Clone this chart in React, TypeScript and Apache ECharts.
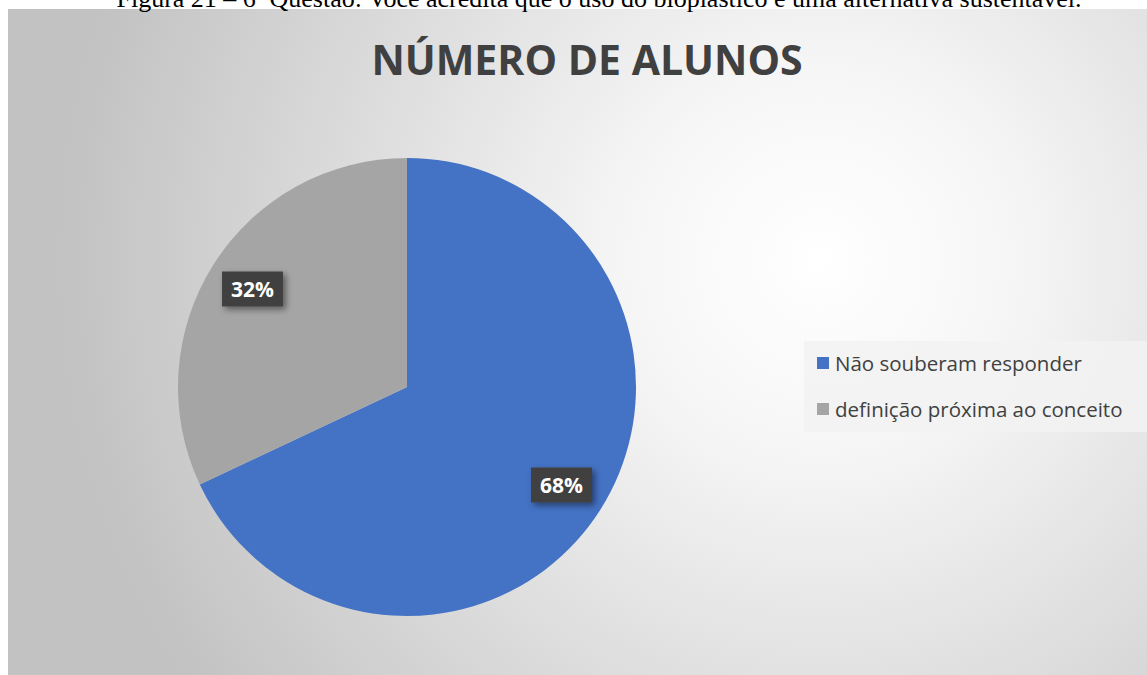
import React, { useEffect, useRef } from "react";
import * as echarts from "echarts";

const chartTitle = "NÚMERO DE ALUNOS";
const caption = "Figura 21 – 6ª Questão: Você acredita que o uso do bioplástico é uma alternativa sustentável.";
const categories = ["Não souberam responder", "definição próxima ao conceito"];
const values = [68, 32];
const colors = ["#4472C4", "#A5A5A5"];

export default function App() {
  const ref = useRef<HTMLDivElement>(null);
  useEffect(() => {
    if (!ref.current) return;
    const chart = echarts.init(ref.current, undefined, { renderer: "svg" });
    const data = categories.map((name, i) => ({
      name,
      value: values[i],
      itemStyle: { color: colors[i] },
    }));
    chart.setOption({
      animation: false,
      backgroundColor: "#ffffff",
      graphic: [
        {
          type: "rect",
          z: -10,
          silent: true,
          shape: { x: 8, y: 9, width: 1150, height: 666 },
          style: {
            fill: {
              type: "radial",
              x: 820,
              y: 260,
              r: 760,
              global: true,
              colorStops: [
                { offset: 0, color: "#ffffff" },
                { offset: 0.25, color: "#f6f6f6" },
                { offset: 1, color: "#c2c2c2" },
              ],
            },
          },
        },
        {
          type: "text",
          z: 10,
          silent: true,
          x: 599,
          y: 11,
          style: {
            text: caption,
            fill: "#000000",
            font: "26px 'Liberation Serif'",
            align: "center",
            verticalAlign: "bottom",
          },
        },
      ],
      title: {
        text: chartTitle,
        left: 582,
        top: 33,
        textAlign: "center",
        textStyle: {
          fontFamily: "Open Sans",
          fontWeight: "bold",
          fontSize: 41,
          color: "#404040",
        },
      },
      legend: {
        orient: "vertical",
        left: 804,
        top: 341,
        padding: [11, 60, 12, 13],
        backgroundColor: "rgba(242,242,242,0.85)",
        itemWidth: 12,
        itemHeight: 12,
        itemGap: 24,
        icon: "rect",
        data: categories,
        textStyle: {
          fontFamily: "Open Sans",
          fontSize: 20.5,
          lineHeight: 22,
          color: "#404040",
          padding: [0, 0, 0, 1],
        },
      },
      series: [
        {
          type: "pie",
          center: [407, 387],
          radius: 229,
          startAngle: 90,
          clockwise: true,
          label: { show: false },
          labelLine: { show: false },
          data,
          z: 2,
        },
        {
          type: "pie",
          center: [407, 387],
          radius: [131, 229],
          startAngle: 90,
          clockwise: true,
          silent: true,
          itemStyle: { color: "rgba(0,0,0,0)" },
          labelLine: { show: false },
          label: {
            show: true,
            position: "inside",
            formatter: (p: any) => p.value + "%",
            fontFamily: "Open Sans",
            fontWeight: "bold",
            fontSize: 21,
            color: "#ffffff",
            backgroundColor: "#404040",
            padding: [8, 9, 6, 9],
            shadowColor: "rgba(0,0,0,0.45)",
            shadowBlur: 6,
            shadowOffsetX: 3,
            shadowOffsetY: 3,
          },
          data: categories.map((name, i) => ({ name, value: values[i] })),
          z: 3,
        },
      ],
    });
    return () => chart.dispose();
  }, []);
  return (
    <div
      ref={ref}
      style={{ position: "absolute", left: 0, top: 0, width: 1147, height: 675 }}
    />
  );
}
